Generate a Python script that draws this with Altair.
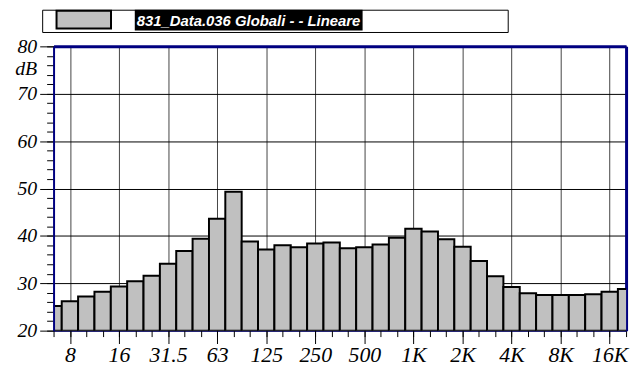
import altair as alt
import pandas as pd

# 1/3-octave band centre frequencies (Hz)
bands = ['6.3', '8', '10', '12.5', '16', '20', '25', '31.5', '40', '50', '63', '80',
         '100', '125', '160', '200', '250', '315', '400', '500', '630', '800', '1K',
         '1.25K', '1.6K', '2K', '2.5K', '3.15K', '4K', '5K', '6.3K', '8K', '10K',
         '12.5K', '16K', '20K']
# band levels (dB)
levels = [25.2, 26.2, 27.2, 28.2, 29.3, 30.4, 31.6, 34.1, 36.8, 39.4, 43.6, 49.3,
          38.8, 37.1, 38.0, 37.6, 38.4, 38.6, 37.4, 37.6, 38.2, 39.6, 41.5,
          40.9, 39.3, 37.7, 34.7, 31.5, 29.2, 27.9, 27.5, 27.5, 27.5,
          27.7, 28.2, 28.8]
# octave labels shown on the x axis
x_labels = ['8', '16', '31.5', '63', '125', '250', '500', '1K', '2K', '4K', '8K', '16K']
y_major = [20, 30, 40, 50, 60, 70, 80]
y_minor = list(range(20, 81, 2))
unit_label = 'dB'
legend_text = '831_Data.036 Globali -  - Lineare'

idx = list(range(len(bands)))
df = pd.DataFrame({
    'idx': idx,
    'lo': [i - 0.5 for i in idx],
    'hi': [i + 0.5 for i in idx],
    'val': levels,
    'band': bands,
})
x_major_vals = [bands.index(l) for l in x_labels]
y_top = max(y_major)

NAVY = '#000080'
SERIF = 'Liberation Serif, Times New Roman, DejaVu Serif, serif'
SANS = 'Liberation Sans, Arial, sans-serif'

xs = alt.Scale(domain=[0, len(bands) - 1], nice=False, zero=False)
ys = alt.Scale(domain=[20, 80], nice=False, zero=False)

label_arr = '[' + ','.join("'%s'" % l for l in x_labels) + ']'
val_arr = '[' + ','.join(str(v) for v in x_major_vals) + ']'

x_major_axis = alt.Axis(
    orient='bottom', values=x_major_vals, title=None,
    labelExpr=label_arr + '[indexof(' + val_arr + ', datum.value)]',
    tickSize=13, tickColor='black', tickWidth=1,
    labelFont=SERIF, labelFontStyle='italic', labelFontSize=22, labelColor='black',
    labelBaseline='alphabetic', labelPadding=18, labelFlush=False, labelOverlap=False,
    domain=True, domainColor=NAVY, domainWidth=1,
    grid=True, gridColor='#444444', gridWidth=1, gridOpacity=1,
)
y_major_axis = alt.Axis(
    orient='left', values=y_major, title=None,
    labelExpr="datum.value == %d ? ['%d', '%s'] : datum.label" % (y_top, y_top, unit_label),
    labelLineHeight=22,
    tickSize=14, tickColor='black', tickWidth=1,
    labelFont=SERIF, labelFontStyle='italic', labelFontSize=20, labelColor='black',
    labelPadding=3, labelFlush=False, labelOverlap=False,
    domain=False,
    grid=True, gridColor='black', gridWidth=1, gridOpacity=1,
)
x_minor_axis = alt.Axis(
    orient='bottom', values=idx, title=None, labels=False, domain=False, grid=False,
    tickSize=6, tickColor='black', tickWidth=1,
)
y_minor_axis = alt.Axis(
    orient='left', values=y_minor, title=None, labels=False, domain=False, grid=False,
    tickSize=7, tickColor='black', tickWidth=1,
)
top_axis = alt.Axis(orient='top', title=None, labels=False, ticks=False, grid=False,
                    domain=True, domainColor=NAVY, domainWidth=3)
right_axis = alt.Axis(orient='right', title=None, labels=False, ticks=False, grid=False,
                      domain=True, domainColor=NAVY, domainWidth=3)
left_axis = alt.Axis(orient='left', title=None, labels=False, ticks=False, grid=False,
                     domain=True, domainColor=NAVY, domainWidth=2, zindex=1)

bars = alt.Chart(df).mark_rect(
    clip=True, fill='#c0c0c0', stroke='black', strokeWidth=2
).encode(
    x=alt.X('lo:Q', scale=xs, axis=x_major_axis),
    x2='hi:Q',
    y=alt.Y('val:Q', scale=ys, axis=y_major_axis),
    y2=alt.datum(20),
)

minor = alt.Chart(df).mark_point(opacity=0).encode(
    x=alt.X('idx:Q', scale=xs, axis=x_minor_axis),
    y=alt.Y('val:Q', scale=ys, axis=y_minor_axis),
)

frame = alt.Chart(df).mark_point(opacity=0).encode(
    x=alt.X('idx:Q', scale=xs, axis=top_axis),
    y=alt.Y('val:Q', scale=ys, axis=right_axis),
)

frame_left = alt.Chart(df).mark_point(opacity=0).encode(
    x=alt.X('idx:Q', scale=xs, axis=None),
    y=alt.Y('val:Q', scale=ys, axis=left_axis),
)

one = pd.DataFrame({'a': [0]})
leg_box = alt.Chart(one).mark_rect(fill='white', stroke='black', strokeWidth=1).encode(
    x=alt.value(-11), x2=alt.value(459), y=alt.value(-36.5), y2=alt.value(-14)
)
leg_swatch = alt.Chart(one).mark_rect(fill='#c0c0c0', stroke='black', strokeWidth=2).encode(
    x=alt.value(3), x2=alt.value(58), y=alt.value(-36), y2=alt.value(-18)
)
leg_bg = alt.Chart(one).mark_rect(fill='black').encode(
    x=alt.value(82), x2=alt.value(312), y=alt.value(-37), y2=alt.value(-16)
)
leg_text = alt.Chart(one).mark_text(
    align='left', baseline='alphabetic', color='white',
    font=SANS, fontStyle='italic', fontWeight='bold', fontSize=15,
).encode(x=alt.value(84), y=alt.value(-21), text=alt.value(legend_text))

chart = alt.layer(
    bars, minor, frame, frame_left, leg_box, leg_swatch, leg_bg, leg_text
).resolve_axis(
    x='independent', y='independent'
).properties(
    width=578, height=287,
    autosize=alt.AutoSizeParams(type='none'),
    padding={'left': 46, 'top': 37, 'right': 8, 'bottom': 36},
    background='white',
).configure_view(stroke=None)

chart.save('out.html', embed_options={'renderer': 'svg', 'actions': False})
